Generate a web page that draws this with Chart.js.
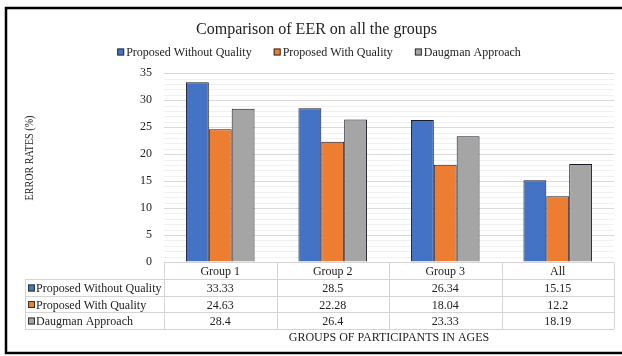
<!DOCTYPE html>
<html>
<head>
<meta charset="utf-8">
<script src="https://cdn.jsdelivr.net/npm/chart.js@4"></script>
<style>
  html, body { margin: 0; padding: 0; background: #fff; }
  #wrap { width: 622px; height: 356px; }
</style>
</head>
<body>
<div id="wrap"><canvas id="eerChart" width="622" height="356"></canvas></div>
<script>
// data
const categories = ['Group 1', 'Group 2', 'Group 3', 'All'];
const seriesNames = ['Proposed Without Quality', 'Proposed With Quality', 'Daugman Approach'];
const withoutQuality = [33.33, 28.5, 26.34, 15.15];
const withQuality = [24.63, 22.28, 18.04, 12.2];
const daugman = [28.4, 26.4, 23.33, 18.19];
const seriesColors = ['#4472C4', '#ED7D31', '#A5A5A5'];
const yMax = 35;
const yStep = 5;

const serif = "'Liberation Serif', 'Times New Roman', serif";

function drawMarker(ctx, color, x, cy) {
    ctx.fillStyle = color;
    ctx.fillRect(x, cy - 3.5, 7, 7);
    ctx.strokeStyle = '#333';
    ctx.lineWidth = 1;
    ctx.strokeRect(x + 0.5, cy - 3, 6, 6);
}

// legenda, garis minor, tabel data, judul sumbu, bingkai
const tablePlugin = {
    id: 'tablePlugin',
    beforeDatasetsDraw(chart) {
        const ctx = chart.ctx;
        const area = chart.chartArea;
        const y = chart.scales.y;
        ctx.save();
        ctx.strokeStyle = '#f0f0f0';
        ctx.lineWidth = 1;
        for (let v = 1; v < yMax; v++) {
            if (v % yStep === 0) continue;
            const py = Math.round(y.getPixelForValue(v)) + 0.5;
            ctx.beginPath();
            ctx.moveTo(area.left, py);
            ctx.lineTo(area.right, py);
            ctx.stroke();
        }
        ctx.restore();
    },
    afterDraw(chart) {
        const ctx = chart.ctx;
        const area = chart.chartArea;
        const x = chart.scales.x;
        const colW = x.width / categories.length;
        const tableLeft = 25;
        const top = Math.round(area.bottom) + 0.5;
        const lines = [top, top + 17, top + 33.5, top + 50, top + 66.5].map(v => Math.round(v - 0.5) + 0.5);
        const rows = [withoutQuality, withQuality, daugman];

        ctx.save();
        ctx.font = '12px ' + serif;
        ctx.textBaseline = 'middle';

        // legenda
        const gap = 20;
        const widths = seriesNames.map(n => 11 + ctx.measureText(n).width);
        const total = widths.reduce((a, b) => a + b, 0) + gap * (widths.length - 1);
        let lx = 320 - total / 2;
        seriesNames.forEach((n, i) => {
            drawMarker(ctx, seriesColors[i], lx, 52);
            ctx.fillStyle = '#222';
            ctx.textAlign = 'left';
            ctx.fillText(n, lx + 9, 53);
            lx += widths[i] + gap;
        });

        // tabel
        ctx.strokeStyle = '#d4d4d4';
        ctx.lineWidth = 1;
        ctx.beginPath();
        ctx.moveTo(area.left, lines[0]);
        ctx.lineTo(area.right, lines[0]);
        for (let r = 1; r < lines.length; r++) {
            ctx.moveTo(tableLeft, lines[r]);
            ctx.lineTo(area.right, lines[r]);
        }
        const bottom = lines[lines.length - 1];
        ctx.moveTo(tableLeft + 0.5, lines[1]);
        ctx.lineTo(tableLeft + 0.5, bottom);
        for (let c = 0; c <= categories.length; c++) {
            const px = Math.round(area.left + c * colW) + 0.5;
            ctx.moveTo(px, lines[0]);
            ctx.lineTo(px, bottom);
        }
        ctx.stroke();

        ctx.fillStyle = '#222';
        ctx.textAlign = 'center';
        categories.forEach((cat, i) => {
            ctx.fillText(cat, x.getPixelForValue(i), (lines[0] + lines[1]) / 2 + 1);
        });
        rows.forEach((vals, r) => {
            const cy = (lines[r + 1] + lines[r + 2]) / 2 + 1;
            ctx.fillStyle = '#222';
            ctx.textAlign = 'center';
            vals.forEach((v, i) => {
                ctx.fillText(String(v), x.getPixelForValue(i), cy);
            });
            drawMarker(ctx, seriesColors[r], tableLeft + 3, cy - 1);
            ctx.fillStyle = '#222';
            ctx.textAlign = 'left';
            ctx.fillText(seriesNames[r], tableLeft + 11, cy);
        });

        // judul sumbu X
        ctx.textAlign = 'center';
        ctx.fillText('GROUPS OF PARTICIPANTS IN AGES', (area.left + area.right) / 2, 338);

        // judul sumbu Y
        ctx.save();
        ctx.font = '11.5px ' + serif;
        ctx.translate(30, 158);
        ctx.rotate(-Math.PI / 2);
        ctx.scale(0.88, 1);
        ctx.fillText('ERROR RATES (%)', 0, 0);
        ctx.restore();

        // bingkai
        ctx.strokeStyle = '#000';
        ctx.lineWidth = 2.5;
        ctx.strokeRect(6, 8, 630, 345);
        ctx.restore();
    }
};

const ctx = document.getElementById('eerChart').getContext('2d');
new Chart(ctx, {
    type: 'bar',
    data: {
        labels: categories,
        datasets: [withoutQuality, withQuality, daugman].map((vals, i) => ({
            label: seriesNames[i],
            data: vals,
            backgroundColor: seriesColors[i],
            borderColor: '#1a1a2a',
            borderWidth: 1,
            categoryPercentage: 0.61,
            barPercentage: 1.0
        }))
    },
    options: {
        responsive: false,
        animation: false,
        layout: { padding: { left: 19, right: 8, top: 10, bottom: 94 } },
        plugins: {
            title: {
                display: true,
                text: 'Comparison of EER on all the groups',
                color: '#222',
                font: { family: serif, size: 16, weight: 'normal' },
                padding: { top: 10, bottom: 34 }
            },
            legend: { display: false },
            tooltip: { enabled: false }
        },
        scales: {
            x: {
                display: false
            },
            y: {
                min: 0,
                max: yMax,
                ticks: {
                    stepSize: yStep,
                    color: '#222',
                    font: { family: serif, size: 12 },
                    padding: 12
                },
                grid: { color: '#d9d9d9', drawTicks: false },
                border: { display: false },
                afterFit(scale) { scale.width = 145; }
            }
        }
    },
    plugins: [tablePlugin]
});
</script>
</body>
</html>
